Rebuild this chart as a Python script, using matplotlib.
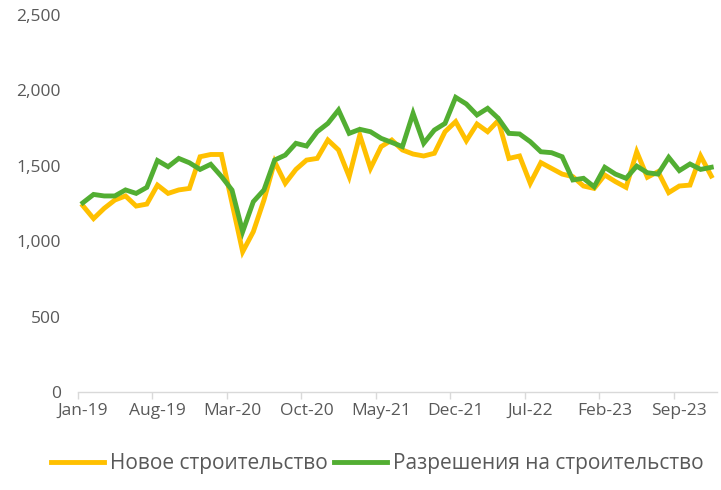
import matplotlib
matplotlib.use("Agg")
import matplotlib.pyplot as plt
from matplotlib.ticker import FuncFormatter
import pandas as pd

# monthly series, Jan-2019 .. Dec-2023
months = pd.date_range("2019-01-01", "2023-12-01", freq="MS")
month_labels = [m.strftime("%b-%y") for m in months]

new_construction = [
    1235, 1150, 1218, 1273, 1300, 1233, 1246, 1372, 1317, 1340,
    1350, 1560, 1575, 1575, 1253, 930, 1063, 1273, 1527, 1384,
    1476, 1538, 1549, 1671, 1605, 1428, 1704, 1483, 1627, 1671,
    1605, 1578, 1565, 1583, 1726, 1793, 1666, 1777, 1726, 1800,
    1549, 1565, 1384, 1521, 1483, 1445, 1428, 1366, 1350, 1439,
    1395, 1357, 1593, 1424, 1461, 1322, 1366, 1372, 1565, 1432,
]
permits = [
    1255, 1310, 1300, 1300, 1340, 1317, 1357, 1535, 1494, 1549,
    1520, 1476, 1510, 1430, 1339, 1063, 1262, 1340, 1538, 1571,
    1649, 1631, 1726, 1781, 1870, 1715, 1742, 1726, 1682, 1655,
    1627, 1848, 1649, 1737, 1781, 1954, 1910, 1837, 1881, 1815,
    1715, 1711, 1660, 1593, 1587, 1560, 1406, 1417, 1361, 1490,
    1445, 1417, 1498, 1454, 1445, 1556, 1468, 1512, 1476, 1490,
]
series_names = ["Новое строительство", "Разрешения на строительство"]
y_ticks = [0, 500, 1000, 1500, 2000, 2500]

plt.rcParams["font.family"] = ["Open Sans", "DejaVu Sans"]

fig = plt.figure(figsize=(7.21, 4.90), dpi=100)
ax = fig.add_axes([0.1076, 0.2, 0.8863, 0.7694])

x = list(range(len(months)))
ax.plot(x, new_construction, color="#FFC000", lw=3.5, label=series_names[0],
        solid_joinstyle="miter")
ax.plot(x, permits, color="#52AE32", lw=3.5, label=series_names[1],
        solid_joinstyle="miter")

ax.set_xlim(-0.5, len(months) - 0.5)
ax.set_ylim(0, 2500)
ax.set_yticks(y_ticks)
ax.yaxis.set_major_formatter(FuncFormatter(lambda v, p: f"{int(v):,}"))

# labels on every 7th month, tick marks on category boundaries
lab_pos = x[::7]
ax.set_xticks(lab_pos)
ax.set_xticklabels([month_labels[i] for i in lab_pos])
ax.set_xticks([p - 0.5 for p in lab_pos], minor=True)
ax.tick_params(axis="x", which="major", length=0, pad=8, labelsize=12.5,
               labelcolor="#595959")
ax.tick_params(axis="x", which="minor", length=5, width=1, color="#D9D9D9")
ax.tick_params(axis="y", length=0, pad=12, labelsize=12.5, labelcolor="#595959")

for s in ["top", "right", "left"]:
    ax.spines[s].set_visible(False)
ax.spines["bottom"].set_color("#D9D9D9")
ax.spines["bottom"].set_linewidth(1)

leg = ax.legend(loc="center", bbox_to_anchor=(0.469, -0.19), ncol=2,
                frameon=False, fontsize=15, handlelength=2.55,
                handletextpad=0.3, columnspacing=0.3)
for t in leg.get_texts():
    t.set_color("#595959")

fig.savefig("out.png", dpi=100)
